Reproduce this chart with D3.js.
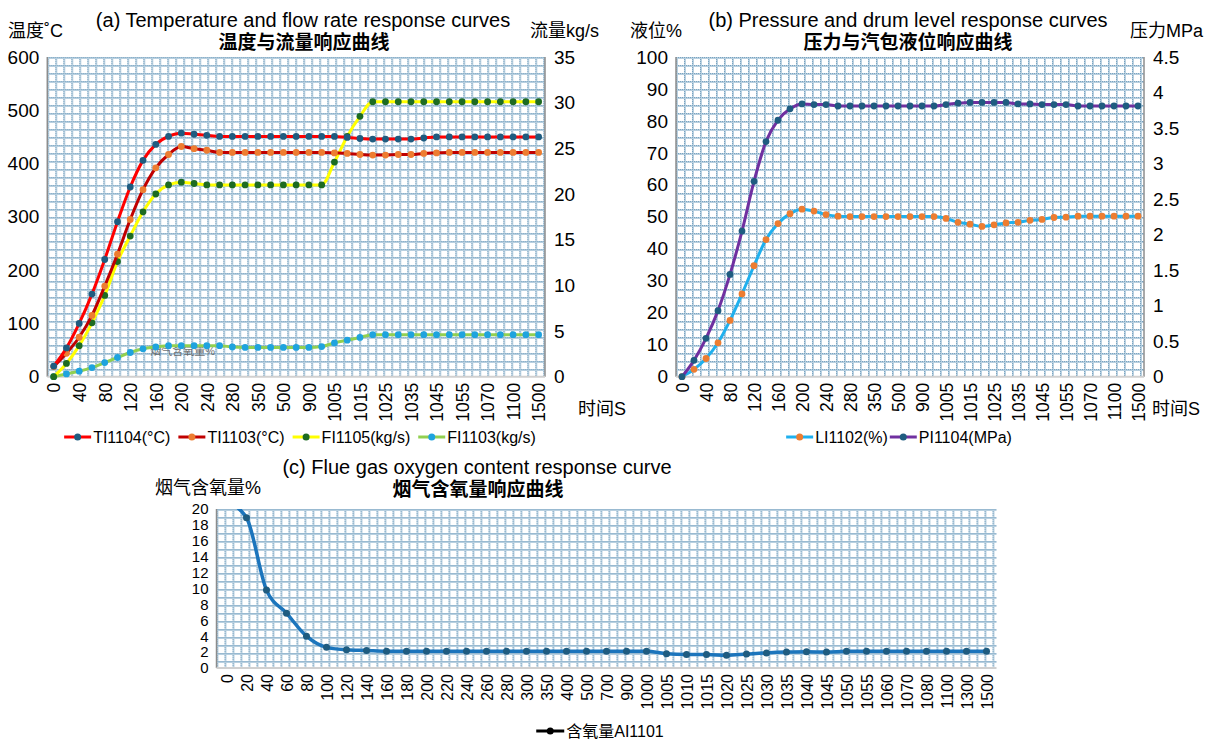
<!DOCTYPE html>
<html>
<head>
<meta charset="utf-8">
<script src="https://cdn.jsdelivr.net/npm/d3@7"></script>
<style>
html,body{margin:0;padding:0;background:#fff;}
svg{display:block;}
</style>
</head>
<body>
<svg id="chart" width="1213" height="739"></svg>
<script>
// ---------------- DATA ----------------
const categories = [0,20,40,60,80,100,120,140,160,180,200,220,240,260,280,300,350,400,500,700,900,1000,
  1005,1010,1015,1020,1025,1030,1035,1040,1045,1050,1055,1060,1070,1080,1100,1300,1500];
const tickLabelsAB = ["0","40","80","120","160","200","240","280","350","500","900","1005","1015","1025","1035","1045","1055","1070","1100","1500"];
const tickLabelsC = categories.map(String);

const TI1104 = [20,54,100,155,220,291,356,406,436,451, 457,455,453, 451,451,451,451,451,451,451,451,451,451,
  449,447,446,446,446,446, 448, 450,450,450,450,450,450,450,450,450];
const TI1103 = [19,44,74,115,170,230,295,351,392,417, 432,428,425, 421,421,421,421,421,421,421,421,421,
  420,419,417,416,416,417,417,419,420, 421,421,421,421,421,421,421,421];
const FI1105 = [0,1.45,3.4,5.9,8.9,12.6,15.4,18.05,20.0,21.0, 21.3,21.15,21.0, 21.0,21.0,21.0,21.0,21.0,21.0,21.0,21.0,21.0,
  23.5,26.3,28.5,30.1, 30.1,30.1,30.1,30.1,30.1,30.1,30.1,30.1,30.1,30.1,30.1,30.1,30.1];
const FI1103 = [0,0.3,0.6,1.0,1.55,2.1,2.65,3.05,3.25,3.4, 3.4,3.4,3.4,3.4, 3.25, 3.2,3.2,3.2,3.2,3.2,3.2, 3.3,
  3.7,4.0,4.3,4.6, 4.6,4.6,4.6,4.6,4.6,4.6,4.6,4.6,4.6,4.6,4.6,4.6,4.6];
const LI1102 = [0,2.3,5.7,10.6,17.6,25.9,34.7,42.9,47.9,51.0, 52.4,51.8,50.7,50.2, 50.1,50.1,50.1,50.1,50.1,50.1,50.1,50.1,
  49.5,48.3,47.7,47.0,47.5,48.1,48.3,48.9,49.2, 49.8,49.9, 50.2,50.2,50.2,50.2,50.2,50.2];
const PI1104 = [0,0.23,0.54,0.93,1.44,2.05,2.75,3.31,3.61,3.77, 3.84,3.83,3.83,3.81, 3.81,3.81,3.81,3.81,3.81,3.81,3.81,3.81,
  3.83,3.85,3.86,3.86,3.86,3.86,3.84,3.84,3.83, 3.83,3.83, 3.81,3.81,3.81,3.81,3.81,3.81];
const AI1101 = [20.9,18.9,9.8,6.9,4.0,2.6,2.3,2.2,2.1, 2.1,2.1,2.1,2.1,2.1,2.1,2.1,2.1,2.1,2.1,2.1,2.1,2.1,
  1.8,1.7,1.7,1.6,1.75,1.9,2.0,2.05,2.0, 2.1,2.1,2.1,2.1,2.1,2.1,2.1,2.1];

const ticksTemp = [0,100,200,300,400,500,600];
const ticksFlow = [0,5,10,15,20,25,30,35];
const ticksLevel = [0,10,20,30,40,50,60,70,80,90,100];
const ticksPress = [0,0.5,1,1.5,2,2.5,3,3.5,4,4.5];
const ticksO2 = [0,2,4,6,8,10,12,14,16,18,20];

// ---------------- DRAWING ----------------
const FONT = "'Liberation Sans', Arial, 'Noto Sans CJK SC', sans-serif";
const svg = d3.select("#chart").style("font-family", FONT);
svg.append("rect").attr("width",1213).attr("height",739).attr("fill","#fff");

const defs = svg.append("defs");
const pat = defs.append("pattern").attr("id","grid").attr("width",8).attr("height",8)
  .attr("patternUnits","userSpaceOnUse");
pat.append("rect").attr("width",8).attr("height",8).attr("fill","#ffffff");
pat.append("rect").attr("x",0).attr("y",0).attr("width",2).attr("height",8).attr("fill","#b8d0e0");
pat.append("rect").attr("x",0).attr("y",0).attr("width",8).attr("height",2).attr("fill","#b8d0e0");
[0,2,4,6].forEach(v=>{
  pat.append("rect").attr("x",0).attr("y",v).attr("width",1).attr("height",1).attr("fill","#7aa4c1");
  pat.append("rect").attr("x",v).attr("y",0).attr("width",1).attr("height",1).attr("fill","#7aa4c1");
});

function makePanel(id, box){
  const w = box.right - box.left, h = box.bottom - box.top;
  const g = svg.append("g").attr("transform",`translate(${box.left},${box.top})`);
  defs.append("clipPath").attr("id","clip"+id).append("rect").attr("width",w).attr("height",h);
  g.append("rect").attr("width",w).attr("height",h).attr("fill","url(#grid)");
  const x = d3.scalePoint().domain(categories.map(String)).range([0,w]).padding(0.5);
  return {g,w,h,x};
}

function leftAxis(p, y, ticks, fs){
  const ax = p.g.append("g").call(d3.axisLeft(y).tickValues(ticks).tickSize(0).tickPadding(8).tickFormat(d=>String(d)));
  ax.select(".domain").remove();
  ax.selectAll("text").attr("font-size",fs).attr("fill","#000").style("font-family",FONT);
  p.g.append("line").attr("x1",0).attr("x2",0).attr("y1",0).attr("y2",p.h).attr("stroke","#8c8c8c").attr("stroke-width",1.5);
}
function rightAxis(p, y, ticks, fs){
  const ax = p.g.append("g").attr("transform",`translate(${p.w},0)`)
    .call(d3.axisRight(y).tickValues(ticks).tickSize(0).tickPadding(9).tickFormat(d=>String(d)));
  ax.select(".domain").remove();
  ax.selectAll("text").attr("font-size",fs).attr("fill","#000").style("font-family",FONT);
  p.g.append("line").attr("x1",p.w).attr("x2",p.w).attr("y1",0).attr("y2",p.h).attr("stroke","#8c8c8c").attr("stroke-width",1.5);
}
function bottomAxis(p, labels, fs){
  p.g.append("line").attr("x1",0).attr("x2",p.w).attr("y1",p.h).attr("y2",p.h).attr("stroke","#d0d0d0").attr("stroke-width",2);
  const ax = p.g.append("g").attr("transform",`translate(0,${p.h})`)
    .call(d3.axisBottom(p.x).tickValues(labels).tickSize(0));
  ax.select(".domain").remove();
  ax.selectAll("text").attr("font-size",fs).attr("fill","#000").style("font-family",FONT)
    .attr("transform","rotate(-90)").attr("text-anchor","end")
    .attr("x",-6).attr("y",0).attr("dy","0.36em");
}
function series(p, y, vals, lineColor, markerColor, curve, lw, r, clip){
  const gg = p.g.append("g");
  if (clip) gg.attr("clip-path",`url(#clip${clip})`);
  const line = d3.line().x((d,i)=>p.x(String(categories[i]))).y(d=>y(d)).curve(curve);
  gg.append("path").datum(vals).attr("d",line).attr("fill","none").attr("stroke",lineColor)
    .attr("stroke-width",lw).attr("stroke-linejoin","round");
  gg.selectAll("circle.m").data(vals).join("circle").attr("class","m")
    .attr("cx",(d,i)=>p.x(String(categories[i]))).attr("cy",d=>y(d)).attr("r",r).attr("fill",markerColor);
}
function text(x,y,str,opts={}){
  return svg.append("text").attr("x",x).attr("y",y).text(str)
    .attr("font-size",opts.fs||18).attr("font-weight",opts.bold?"bold":"normal")
    .attr("text-anchor",opts.anchor||"start").attr("dominant-baseline","central")
    .attr("fill",opts.fill||"#000").style("font-family",FONT);
}
function legend(items, cx, cy, fs, lineLen, gap){
  const g = svg.append("g");
  const widths = items.map(it=>{
    const t = g.append("text").text(it.label).attr("font-size",fs).style("font-family",FONT);
    const wv = t.node().getComputedTextLength(); t.remove(); return wv;
  });
  const total = d3.sum(widths) + items.length*(lineLen+2) + (items.length-1)*gap;
  let xx = cx - total/2;
  items.forEach((it,i)=>{
    g.append("line").attr("x1",xx).attr("x2",xx+lineLen).attr("y1",cy).attr("y2",cy)
      .attr("stroke",it.line).attr("stroke-width",3);
    g.append("circle").attr("cx",xx+lineLen/2).attr("cy",cy).attr("r",3.5).attr("fill",it.marker);
    g.append("text").attr("x",xx+lineLen+2).attr("y",cy).attr("dominant-baseline","central")
      .attr("font-size",fs).style("font-family",FONT).text(it.label);
    xx += lineLen + 2 + widths[i] + gap;
  });
}

// ---- Panel (a)
const pA = makePanel("A",{left:47.3,right:545,top:57,bottom:376.7});
const yA = d3.scaleLinear().domain([0,600]).range([pA.h,0]);
const yA2 = d3.scaleLinear().domain([0,35]).range([pA.h,0]);
leftAxis(pA, yA, ticksTemp, 19);
rightAxis(pA, yA2, ticksFlow, 19);
bottomAxis(pA, tickLabelsAB, 17.5);
pA.g.append("text").attr("x",103).attr("y",298).text("烟气含氧量%").attr("font-size",11)
  .attr("fill","#595959").attr("opacity",0.85).style("font-family",FONT);
series(pA, yA2, FI1103, "#92d050", "#1fa3de", d3.curveMonotoneX, 3, 3.4);
series(pA, yA2, FI1105, "#ffff00", "#1d6b22", d3.curveMonotoneX, 3, 3.4);
series(pA, yA, TI1103, "#c00000", "#ed7d31", d3.curveMonotoneX, 3, 3.4);
series(pA, yA, TI1104, "#ff0000", "#1f5c80", d3.curveMonotoneX, 3, 3.4);

text(303,20,"(a) Temperature and flow rate response curves",{fs:20,anchor:"middle"});
text(304,42,"温度与流量响应曲线",{fs:19,bold:true,anchor:"middle"});
text(8,31,"温度˚C",{fs:18});
text(530,31,"流量kg/s",{fs:18});
text(578,409,"时间S",{fs:18});
legend([
  {label:"TI1104(°C)", line:"#ff0000", marker:"#1f5c80"},
  {label:"TI1103(°C)", line:"#c00000", marker:"#ed7d31"},
  {label:"FI1105(kg/s)", line:"#ffff00", marker:"#1d6b22"},
  {label:"FI1103(kg/s)", line:"#92d050", marker:"#1fa3de"}
], 300, 437, 16, 27, 8);

// ---- Panel (b)
const pB = makePanel("B",{left:676,right:1144,top:57,bottom:376.7});
const yB = d3.scaleLinear().domain([0,100]).range([pB.h,0]);
const yB2 = d3.scaleLinear().domain([0,4.5]).range([pB.h,0]);
leftAxis(pB, yB, ticksLevel, 19);
rightAxis(pB, yB2, ticksPress, 19);
bottomAxis(pB, tickLabelsAB, 17.5);
series(pB, yB, LI1102, "#1fb0ee", "#ed7d31", d3.curveMonotoneX, 3, 3.4);
series(pB, yB2, PI1104, "#7030a0", "#1f5c80", d3.curveMonotoneX, 3, 3.4);

text(908,20,"(b) Pressure and drum level response curves",{fs:20,anchor:"middle"});
text(908,42,"压力与汽包液位响应曲线",{fs:19,bold:true,anchor:"middle"});
text(630,31,"液位%",{fs:18});
text(1130,31,"压力MPa",{fs:18});
text(1152,409,"时间S",{fs:18});
legend([
  {label:"LI1102(%)", line:"#1fb0ee", marker:"#ed7d31"},
  {label:"PI1104(MPa)", line:"#7030a0", marker:"#1f5c80"}
], 899, 437, 16, 27, 2);

// ---- Panel (c)
const pC = makePanel("C",{left:216.5,right:996.5,top:509,bottom:668});
const yC = d3.scaleLinear().domain([0,20]).range([pC.h,0]);
leftAxis(pC, yC, ticksO2, 15);
bottomAxis(pC, tickLabelsC, 16);
series(pC, yC, AI1101, "#1c75bc", "#1f5c80", d3.curveMonotoneX, 3.5, 3.5, "C");

text(477,467,"(c) Flue gas oxygen content response curve",{fs:20,anchor:"middle"});
text(478,489,"烟气含氧量响应曲线",{fs:19,bold:true,anchor:"middle"});
text(155,488,"烟气含氧量%",{fs:18});
legend([
  {label:"含氧量AI1101", line:"#000000", marker:"#000000"}
], 600, 731, 16, 28, 0);
</script>
</body>
</html>
